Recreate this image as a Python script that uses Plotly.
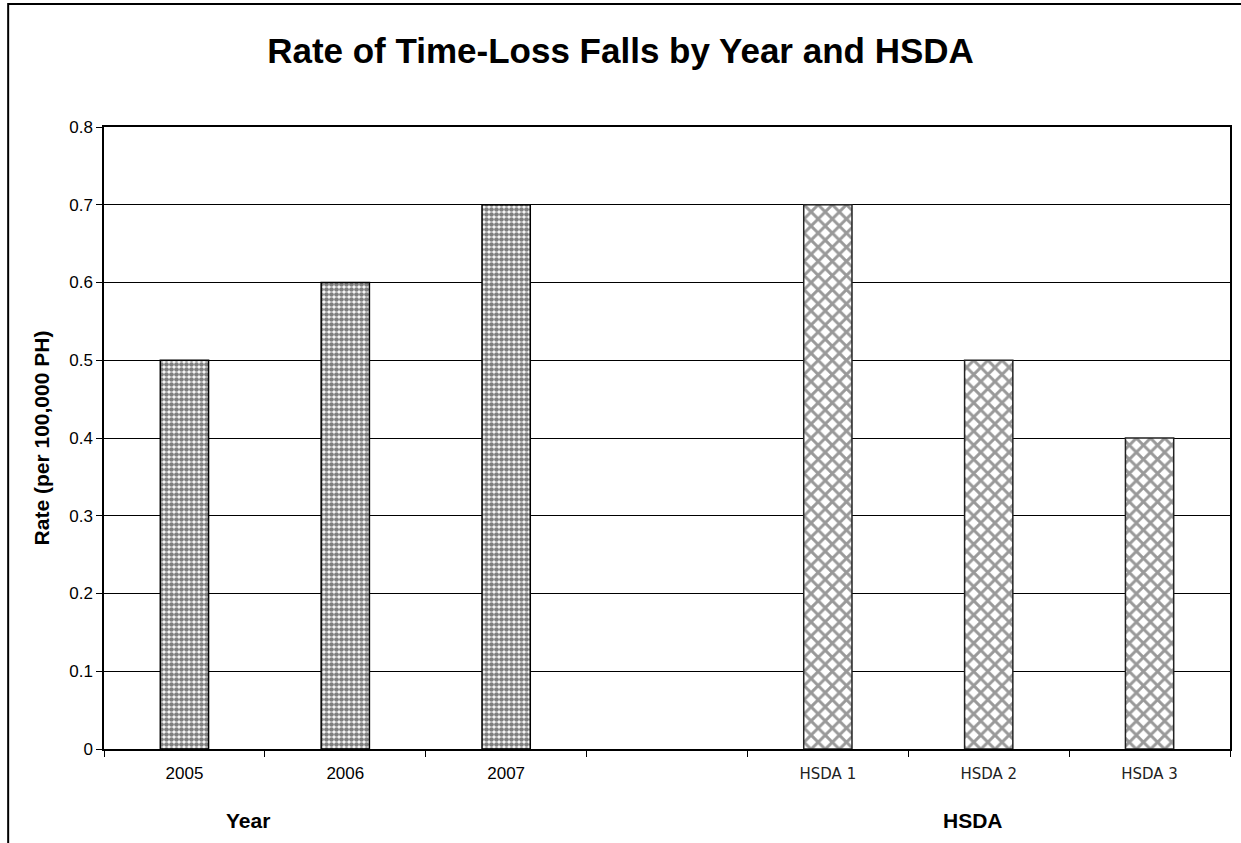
import plotly.graph_objects as go

categories = ["2005", "2006", "2007", "gap", "HSDA 1", "HSDA 2", "HSDA 3"]
year_cats = ["2005", "2006", "2007"]
year_vals = [0.5, 0.6, 0.7]
hsda_cats = ["HSDA 1", "HSDA 2", "HSDA 3"]
hsda_vals = [0.7, 0.5, 0.4]
group_labels = ["Year", "HSDA"]


def hsda_tick(t):
    return "<span style=\"font-family:'DejaVu Sans';font-size:15px;color:#222\">" + t + "</span>"


tick_text = year_cats + [""] + [hsda_tick(t) for t in hsda_cats]

fig = go.Figure()
fig.add_trace(go.Bar(
    x=year_cats, y=year_vals, width=0.3, name="Year",
    marker=dict(color="white", line=dict(color="black", width=1.5),
                pattern=dict(shape=".", fgcolor="black", bgcolor="white", size=5, solidity=0.7)),
))
fig.add_trace(go.Bar(
    x=hsda_cats, y=hsda_vals, width=0.3, name="HSDA",
    marker=dict(color="white", line=dict(color="#222", width=1.5),
                pattern=dict(shape="x", fgcolor="#333", bgcolor="white", size=10, solidity=0.5)),
))

fig.update_layout(
    width=1241, height=843,
    margin=dict(l=104, r=9, t=127, b=94),
    paper_bgcolor="white", plot_bgcolor="white",
    showlegend=False,
    barmode="overlay",
    font=dict(family="Liberation Sans, Arial, sans-serif", color="black"),
    title=dict(text="<b>Rate of Time-Loss Falls by Year and HSDA</b>",
               x=0.5, xanchor="center", y=0.94, yanchor="middle",
               font=dict(size=35, color="black")),
    xaxis=dict(type="category", categoryorder="array", categoryarray=categories,
               tickvals=categories, ticktext=tick_text,
               tickson="boundaries", ticks="outside", ticklen=6, tickcolor="black",
               ticklabelstandoff=8,
               showline=True, linecolor="black", linewidth=1.5, mirror=True,
               showgrid=False, tickfont=dict(size=17), range=[-0.5, 6.5]),
    yaxis=dict(range=[0, 0.8], dtick=0.1, tickformat="~g",
               ticks="outside", ticklen=6, tickcolor="black",
               showline=True, linecolor="black", linewidth=1.5, mirror=True,
               showgrid=True, gridcolor="black", gridwidth=1,
               tickfont=dict(size=17), zeroline=False,
               title=dict(text="<b>Rate (per 100,000 PH)</b>", font=dict(size=21), standoff=14)),
)

# outer chart frame
fig.add_shape(type="rect", xref="paper", yref="paper",
              x0=(8 - 104) / 1128, x1=1.05, y0=-0.3, y1=(749 - 4) / 622,
              line=dict(color="black", width=2), fillcolor="rgba(0,0,0,0)", layer="below")

for label, px in zip(group_labels, [248, 975]):
    fig.add_annotation(text="<b>" + label + "</b>", xref="paper", yref="paper",
                       x=(px - 104) / 1128, y=(749 - 820) / 622, showarrow=False,
                       font=dict(size=21), xanchor="center", yanchor="middle")

fig.write_html("out.html")
